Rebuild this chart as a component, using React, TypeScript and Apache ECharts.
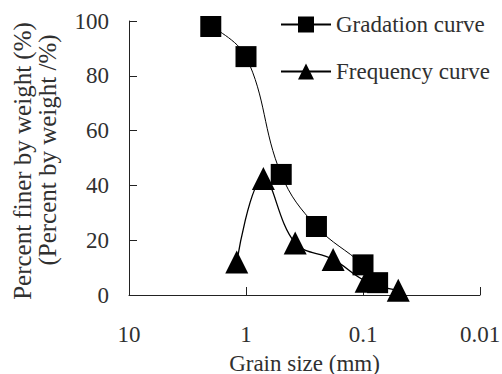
import React, { useEffect, useRef } from 'react';
import * as echarts from 'echarts';

const seriesNames = ['Gradation curve', 'Frequency curve'];
const gradationX = [2.0, 1.0, 0.5, 0.25, 0.1, 0.075];
const gradationY = [98, 87, 44, 25, 11, 4.5];
const frequencyX = [1.2, 0.71, 0.38, 0.18, 0.094, 0.05];
const frequencyY = [12, 42.5, 19, 13, 5, 1.7];
const xTitle = 'Grain size (mm)';
const yTitleLines = ['Percent finer by weight (%)', '(Percent by weight /%)'];

const FONT = 'Liberation Serif';
const TEXT = '#303030';

export default function App() {
  const ref = useRef<HTMLDivElement>(null);
  useEffect(() => {
    document.body.style.margin = '0';
    const chart = echarts.init(ref.current!, undefined, { renderer: 'svg' });
    const zip = (xs: number[], ys: number[]) => xs.map((x, i) => [x, ys[i]]);
    chart.setOption({
      animation: false,
      backgroundColor: '#fff',
      textStyle: { fontFamily: FONT, color: TEXT },
      grid: { left: 129, right: 22, top: 21, bottom: 79, outerBoundsMode: 'none', containLabel: false },
      legend: {
        orient: 'vertical',
        left: 280,
        top: 13,
        padding: 0,
        itemWidth: 50,
        itemHeight: 20,
        itemGap: 24,
        textStyle: { fontFamily: FONT, fontSize: 23, color: TEXT },
        data: seriesNames,
      },
      xAxis: {
        type: 'log',
        logBase: 10,
        min: 0.01,
        max: 10,
        inverse: true,
        name: xTitle,
        nameLocation: 'middle',
        nameGap: 57,
        nameTextStyle: { fontFamily: FONT, fontSize: 23, lineHeight: 22, color: TEXT },
        axisLine: { lineStyle: { color: '#222', width: 1 } },
        axisTick: { inside: true, length: 8, lineStyle: { color: '#222' } },
        axisLabel: {
          margin: 28,
          fontFamily: FONT,
          fontSize: 23,
          color: TEXT,
          formatter: (v: number) => String(Number(v.toPrecision(3))),
        },
        splitLine: { show: false },
        minorTick: { show: false },
      },
      yAxis: {
        type: 'value',
        min: 0,
        max: 100,
        interval: 20,
        axisLine: { show: true, lineStyle: { color: '#222', width: 1 } },
        axisTick: { show: true, inside: true, length: 8, lineStyle: { color: '#222' } },
        axisLabel: { margin: 20, fontFamily: FONT, fontSize: 23, color: TEXT },
        splitLine: { show: false },
      },
      graphic: [
        {
          type: 'text',
          x: 22,
          y: 161,
          rotation: Math.PI / 2,
          style: {
            text: yTitleLines[0],
            fontFamily: FONT,
            fontSize: 25,
            fill: TEXT,
            align: 'center',
            verticalAlign: 'middle',
          },
        },
        {
          type: 'text',
          x: 47,
          y: 150,
          rotation: Math.PI / 2,
          style: {
            text: yTitleLines[1],
            fontFamily: FONT,
            fontSize: 25,
            fill: TEXT,
            align: 'center',
            verticalAlign: 'middle',
          },
        },
      ],
      series: [
        {
          name: seriesNames[0],
          type: 'line',
          smooth: 0.4,
          symbol: 'rect',
          symbolSize: 21,
          itemStyle: { color: '#000' },
          lineStyle: { color: '#000', width: 1 },
          data: zip(gradationX, gradationY),
        },
        {
          name: seriesNames[1],
          type: 'line',
          smooth: 0.4,
          symbol: 'triangle',
          symbolSize: 23,
          itemStyle: { color: '#000' },
          lineStyle: { color: '#000', width: 1.3 },
          data: zip(frequencyX, frequencyY),
        },
      ],
    });
    return () => chart.dispose();
  }, []);
  return <div ref={ref} style={{ width: 502, height: 374 }} />;
}
